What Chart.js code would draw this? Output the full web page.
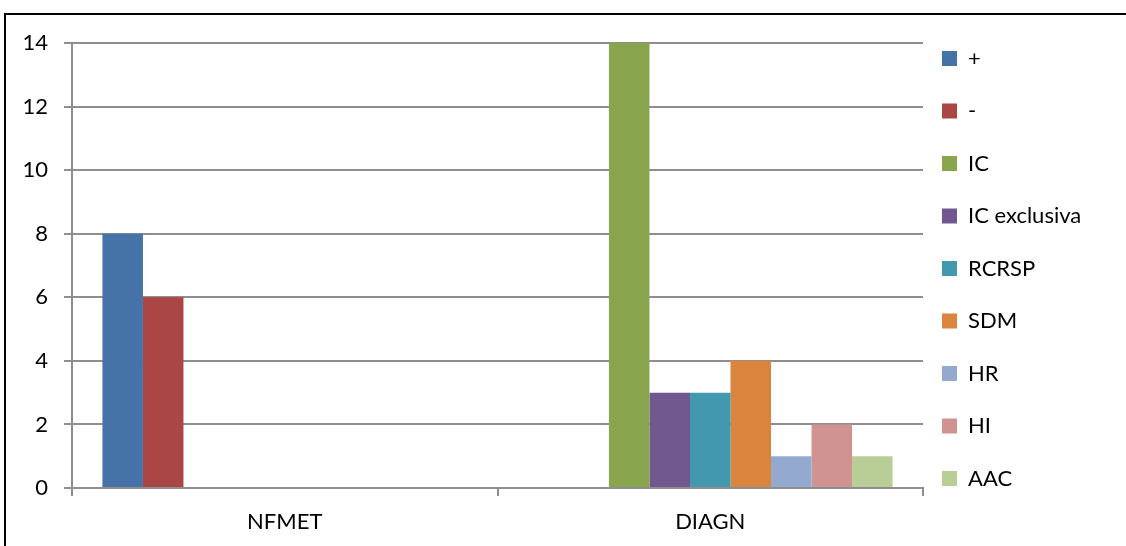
<!DOCTYPE html>
<html>
<head>
<meta charset="utf-8">
<script src="https://cdn.jsdelivr.net/npm/chart.js@4/dist/chart.umd.min.js"></script>
<style>
  html, body { margin: 0; padding: 0; background: #fff; overflow: hidden; }
  #frame { position: absolute; left: 4px; top: 13px; width: 1300px; height: 700px;
           border-left: 2px solid #000; border-top: 2px solid #000; }
  #wrap { position: absolute; left: 0; top: 0; width: 1126px; height: 546px; }
</style>
</head>
<body>
<div id="frame"></div>
<div id="wrap"><canvas id="myChart" width="1126" height="546"></canvas></div>
<script>
// categories on the x axis
var categories = ['NFMET', 'DIAGN'];

// one array per series (values per category)
var seriesNames = ['+', '-', 'IC', 'IC exclusiva', 'RCRSP', 'SDM', 'HR', 'HI', 'AAC'];
var plusVals = [8, 0];
var minusVals = [6, 0];
var icVals = [0, 14];
var icExclVals = [0, 3];
var rcrspVals = [0, 3];
var sdmVals = [0, 4];
var hrVals = [0, 1];
var hiVals = [0, 2];
var aacVals = [0, 1];

// y axis ticks
var yTicks = [0, 2, 4, 6, 8, 10, 12, 14];

var seriesValues = [plusVals, minusVals, icVals, icExclVals, rcrspVals, sdmVals, hrVals, hiVals, aacVals];
var seriesColors = ['#4572A7', '#AA4643', '#89A54E', '#71588F', '#4198AF', '#DB843D', '#93A9CF', '#D19392', '#B9CD96'];

var font = { family: 'Lato, "Open Sans", sans-serif', size: 22 };

// nudge the legend so it sits next to the plot like the original
var legendShift = {
  id: 'legendShift',
  afterLayout: function (chart) {
    var lg = chart.legend;
    lg.left -= 11.5;
    lg.right -= 11.5;
    lg.top -= 26;
  }
};

var ctx = document.getElementById('myChart').getContext('2d');
var myChart = new Chart(ctx, {
  type: 'bar',
  data: {
    labels: categories,
    datasets: seriesNames.map(function (name, i) {
      return {
        label: name,
        data: seriesValues[i],
        backgroundColor: seriesColors[i],
        borderWidth: 0,
        barPercentage: 1,
        categoryPercentage: 0.857
      };
    })
  },
  options: {
    responsive: false,
    devicePixelRatio: 1,
    animation: false,
    layout: { padding: { left: 10, top: 43, right: 3, bottom: 8 } },
    plugins: {
      tooltip: { enabled: false },
      legend: {
        position: 'right',
        align: 'start',
        maxWidth: 200,
        labels: {
          boxWidth: 15,
          boxHeight: 15,
          padding: 30.5,
          color: '#000',
          font: font
        }
      }
    },
    scales: {
      x: {
        grid: { drawOnChartArea: false, drawTicks: true, tickLength: 8, color: '#8e8e8e', lineWidth: 2 },
        border: { color: '#8e8e8e', width: 2 },
        ticks: { color: '#000', font: font, padding: 13 },
        afterFit: function (scale) { scale.height = 50; }
      },
      y: {
        min: 0,
        max: 14,
        afterBuildTicks: function (scale) {
          scale.ticks = yTicks.map(function (v) { return { value: v }; });
        },
        grid: { color: '#8e8e8e', lineWidth: 2, tickLength: 8 },
        border: { color: '#8e8e8e', width: 2 },
        ticks: { color: '#000', font: font, padding: 16 },
        afterFit: function (scale) { scale.width = 62; }
      }
    }
  },
  plugins: [legendShift]
});
</script>
</body>
</html>
